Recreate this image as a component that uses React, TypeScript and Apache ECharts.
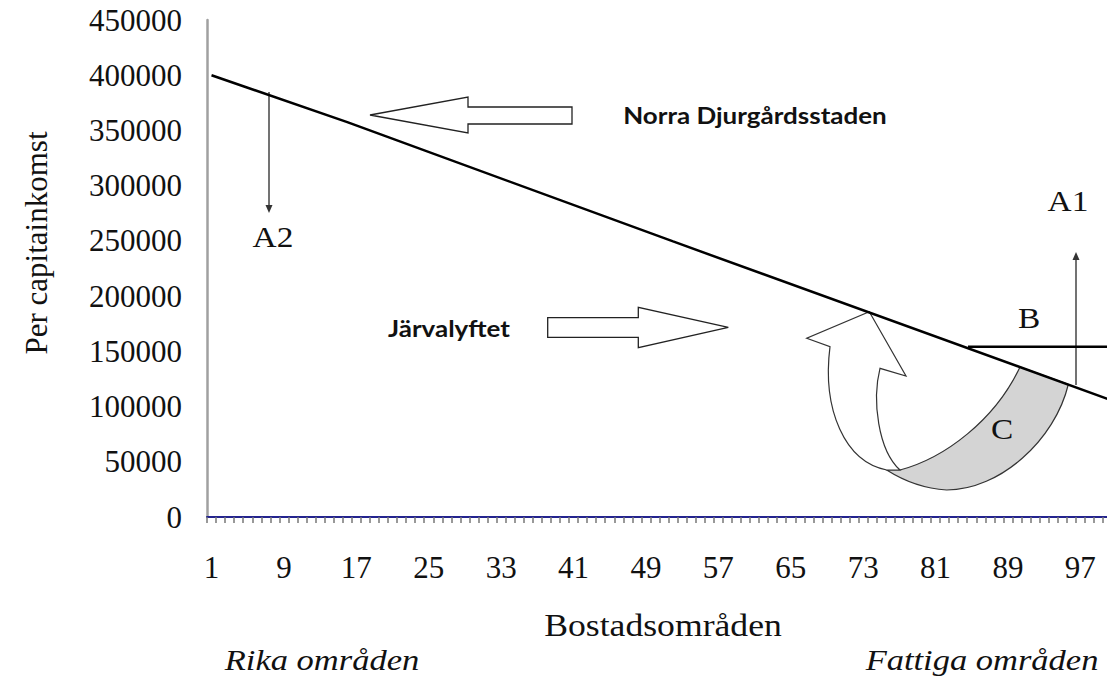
import React, { useEffect, useRef } from "react";
import * as echarts from "echarts";

// ---- data ----
const categories: string[] = Array.from({ length: 100 }, (_, i) => String(i + 1));
const knotCategories = [1, 16, 52, 100];
const knotIncome = [400000, 357500, 249500, 107000];
const yMin = 0;
const yMax = 450000;
const yStep = 50000;

const yAxisTitle = "Per capitainkomst";
const xAxisTitle = "Bostadsområden";
const leftNote = "Rika områden";
const rightNote = "Fattiga områden";
const northLabel = "Norra Djurgårdsstaden";
const jarvaLabel = "Järvalyftet";

const incomeSeries = categories.map((c) => {
  const k = knotCategories.indexOf(Number(c));
  return k >= 0 ? knotIncome[k] : null;
});

// ---- annotation shapes ----
const whiteArrowPath =
  "M869.3 311.7 L906 376 L880 368.3 C872 400 878 450 900 470 L886.7 470 C845 462 822 410 830 346.7 L806.7 338.3 Z";
const grayBandPath =
  "M886.7 470 L900 470 C945 458 995 420 1020 367 L1068.3 384.5 C1055 440 1000 490 946.7 490 Q915 488 886.7 470 Z";

echarts.graphic.registerShape("whiteArrow", echarts.graphic.extendPath(whiteArrowPath, {}) as any);
echarts.graphic.registerShape("grayBand", echarts.graphic.extendPath(grayBandPath, {}) as any);

const SERIF = "'Liberation Serif', 'Times New Roman', serif";
const SANS = "Lato, 'Open Sans', sans-serif";

function serifText(text: string, x: number, y: number, size: number, italic = false, scaleX = 1.15) {
  return {
    type: "text",
    x,
    y,
    scaleX,
    style: {
      text,
      font: `${italic ? "italic " : ""}${size}px ${SERIF}`,
      fill: "#111",
      align: "center",
      verticalAlign: "middle",
    },
  };
}

function sansBold(text: string, x: number, y: number, size: number) {
  return {
    type: "text",
    x,
    y,
    scaleX: 1.13,
    style: {
      text,
      font: `bold ${size}px ${SANS}`,
      fill: "#111",
      align: "center",
      verticalAlign: "middle",
    },
  };
}

const graphics: any[] = [
  { type: "grayBand", x: 0, y: 0, style: { fill: "#d4d4d4", stroke: "#333", lineWidth: 1.2 } },
  { type: "whiteArrow", x: 0, y: 0, style: { fill: "#fff", stroke: "#333", lineWidth: 1.2 } },
  {
    type: "polygon",
    shape: { points: [[370, 115], [468, 97], [468, 107], [572, 107], [572, 124], [468, 124], [468, 133]] },
    style: { fill: "#fff", stroke: "#222", lineWidth: 1.3 },
  },
  {
    type: "polygon",
    shape: { points: [[547.7, 317.7], [638.3, 317.7], [638.3, 307.3], [728.3, 327.3], [638.3, 347.7], [638.3, 337.3], [547.7, 337.3]] },
    style: { fill: "#fff", stroke: "#222", lineWidth: 1.3 },
  },
  { type: "line", shape: { x1: 269, y1: 92, x2: 269, y2: 207 }, style: { stroke: "#444", lineWidth: 1.5 } },
  { type: "polygon", shape: { points: [[265.5, 205], [272.5, 205], [269, 213]] }, style: { fill: "#333" } },
  { type: "line", shape: { x1: 1076, y1: 385, x2: 1076, y2: 258 }, style: { stroke: "#444", lineWidth: 1.5 } },
  { type: "polygon", shape: { points: [[1072.5, 260], [1079.5, 260], [1076, 252]] }, style: { fill: "#333" } },
  { type: "line", shape: { x1: 968, y1: 346.7, x2: 1112, y2: 346.7 }, style: { stroke: "#000", lineWidth: 2.5 } },
  serifText("A2", 273, 237.5, 29),
  serifText("A1", 1068, 201, 29),
  serifText("B", 1029, 318, 29),
  serifText("C", 1002, 429, 29),
  serifText(xAxisTitle, 663, 625, 31),
  serifText(leftNote, 322, 660, 30, true),
  serifText(rightNote, 982, 660, 30, true),
  sansBold(northLabel, 755, 115, 23),
  sansBold(jarvaLabel, 449, 328, 23),
  {
    type: "text",
    x: 36,
    y: 243,
    rotation: Math.PI / 2,
    style: {
      text: yAxisTitle,
      font: `31px ${SERIF}`,
      fill: "#111",
      align: "center",
      verticalAlign: "middle",
    },
  },
];

export default function App() {
  const ref = useRef<HTMLDivElement>(null);
  useEffect(() => {
    if (!ref.current) return;
    const chart = echarts.init(ref.current, undefined, { renderer: "svg" });
    chart.setOption({
      animation: false,
      backgroundColor: "#fff",
      grid: { left: 207, top: 20, bottom: 162, right: 0, containLabel: false },
      xAxis: {
        type: "category",
        data: categories,
        boundaryGap: true,
        axisLine: { show: true, lineStyle: { color: "#23238e", width: 2 } },
        axisTick: { show: true, interval: 0, length: 6, lineStyle: { color: "#777", width: 1.5 } },
        axisLabel: {
          interval: 7,
          margin: 35,
          color: "#111",
          fontFamily: "Liberation Serif",
          fontSize: 31,
        },
        splitLine: { show: false },
      },
      yAxis: {
        type: "value",
        min: yMin,
        max: yMax,
        interval: yStep,
        axisLine: { show: true, lineStyle: { color: "#a0a0a0", width: 2.5 } },
        axisTick: { show: false },
        splitLine: { show: false },
        axisLabel: {
          margin: 25,
          color: "#111",
          fontFamily: "Liberation Serif",
          fontSize: 31,
          formatter: (v: number) => String(v),
        },
      },
      series: [
        {
          type: "line",
          data: incomeSeries,
          connectNulls: true,
          showSymbol: false,
          symbol: "none",
          lineStyle: { color: "#000", width: 2.5 },
          z: 5,
        },
      ],
      graphic: graphics,
    });
    return () => chart.dispose();
  }, []);
  return (
    <div
      ref={ref}
      style={{ position: "fixed", left: 0, top: 0, width: 1112, height: 679, background: "#fff" }}
    />
  );
}
